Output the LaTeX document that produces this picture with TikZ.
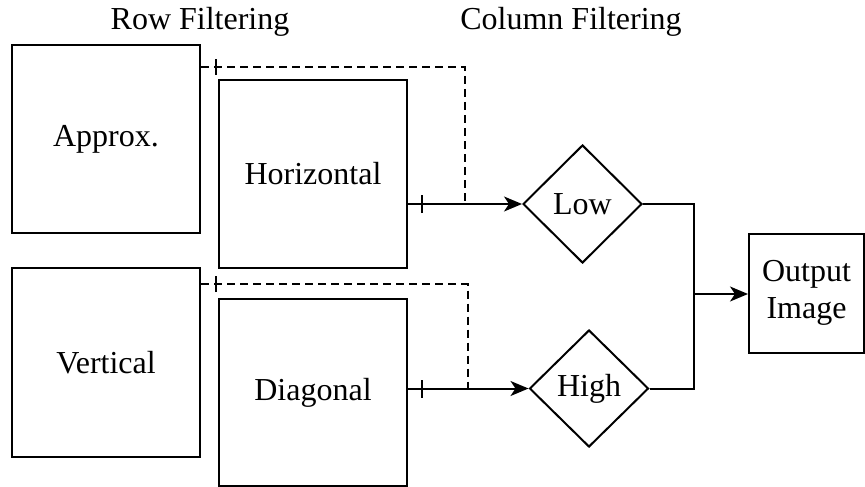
\documentclass[tikz,border=0pt]{standalone}
\usepackage{fontspec}
\setmainfont{Liberation Serif}
\usetikzlibrary{shapes.geometric,arrows.meta}
\begin{document}
\begin{tikzpicture}[x=1pt,y=-1pt,
  font=\fontsize{32}{37}\selectfont,
  every path/.style={line width=2pt},
  box/.style={draw,rectangle,inner sep=0pt,line width=2pt},
  dia/.style={draw,diamond,aspect=1,inner sep=0pt,line width=2pt},
  dsh/.style={dash pattern=on 8pt off 5pt},
  arr/.style={-{Stealth[length=18pt,width=15pt,inset=5pt]}},
  title/.style={anchor=base,inner sep=0pt}]
\useasboundingbox (0,0) rectangle (865,487);
% titles
\node[title] (t1) at (200,29.5) {Row Filtering};
\node[title] (t2) at (571,29.5) {Column Filtering};
% boxes
\node[box,minimum width=188pt,minimum height=188pt] (approx) at (106,139) {Approx.};
\node[box,minimum width=188pt,minimum height=188pt] (horiz) at (313,174) {Horizontal};
\node[box,minimum width=188pt,minimum height=189pt] (vert) at (106,362.5) {Vertical};
\node[box,minimum width=188pt,minimum height=187pt] (diag) at (313,392.5) {Diagonal};
\node[dia,minimum width=119pt,minimum height=118pt] (low) at (582.5,204) {Low};
\node[dia,minimum width=119pt,minimum height=117pt] (high) at (589,388.5) {High};
\node[box,minimum width=115pt,minimum height=119pt,align=center] (out) at (806.5,293) {Output\\Image};
% coordinates
\coordinate (d1) at (465,67);
\coordinate (d2) at (467.5,284);
\coordinate (j) at (694,294);
\coordinate (k1) at (216,67);
\coordinate (k2) at (216,284);
\coordinate (k3) at (422,204);
\coordinate (k4) at (422,388.5);
% dashed feeds
\draw[dsh] (approx.east |- d1) -- (d1) -- (d1 |- low.west);
\draw[dsh] (vert.east |- d2) -- (d2) -- (d2 |- high.west);
% solid feeds
\draw[arr] (horiz.east |- low.west) -- (low.west);
\draw[arr] (diag.east |- high.west) -- (high.west);
% ticks
\draw ([yshift=-8pt]k1) -- ([yshift=8pt]k1);
\draw ([yshift=-8pt]k2) -- ([yshift=8pt]k2);
\draw ([yshift=-9pt]k3) -- ([yshift=9pt]k3);
\draw ([yshift=-9pt]k4) -- ([yshift=9pt]k4);
% merge
\draw (low.east) -- (low.east -| j) -- (high.east -| j) -- (high.east);
\draw[arr] (j) -- (out.west |- j);
\end{tikzpicture}
\end{document}
